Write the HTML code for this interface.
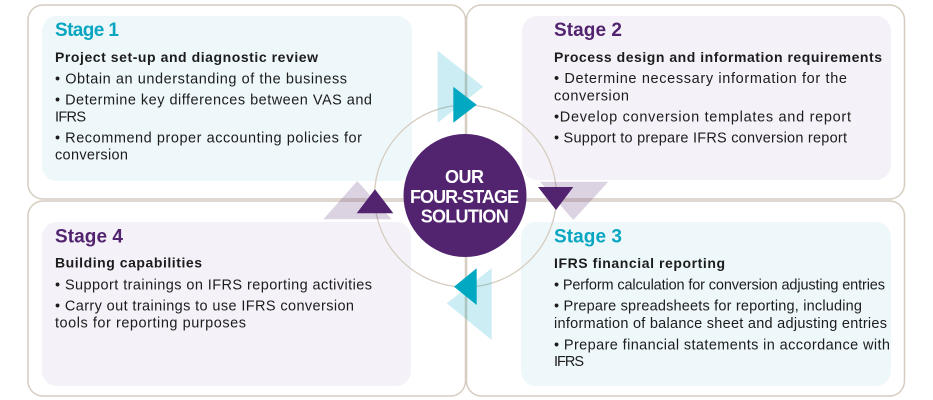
<!DOCTYPE html>
<html>
<head>
<meta charset="utf-8">
<style>
html,body{margin:0;padding:0;background:#ffffff;}
svg{display:block;}
text{font-family:"Liberation Sans",Arial,sans-serif;}
.h{font-weight:bold;font-size:19px;}
.s{font-weight:bold;font-size:14px;fill:#1c1c1c;}
.b{font-size:14.5px;fill:#1c1c1c;}
.t{fill:#0aa6c1;}
.p{fill:#52236f;}
.c{font-weight:bold;font-size:18px;fill:#ffffff;}
</style>
</head>
<body>
<svg width="933" height="400" viewBox="0 0 933 400" xmlns="http://www.w3.org/2000/svg">
  <!-- outer boxes -->
  <rect x="28" y="5" width="437.5" height="194" rx="15" ry="15" fill="#ffffff" stroke="#d6ccc0" stroke-width="1.5"/>
  <rect x="466.5" y="5" width="438" height="194" rx="15" ry="15" fill="#ffffff" stroke="#d6ccc0" stroke-width="1.5"/>
  <rect x="28" y="201" width="437.5" height="195" rx="15" ry="15" fill="#ffffff" stroke="#d6ccc0" stroke-width="1.5"/>
  <rect x="466.5" y="201" width="438" height="195" rx="15" ry="15" fill="#ffffff" stroke="#d6ccc0" stroke-width="1.5"/>

  <!-- inner boxes -->
  <rect x="42" y="16" width="370" height="165" rx="15" ry="15" fill="#eef8fa"/>
  <rect x="522" y="16" width="369" height="164" rx="15" ry="15" fill="#f4f2f8"/>
  <rect x="42" y="222" width="369" height="164" rx="15" ry="15" fill="#f4f2f8"/>
  <rect x="521" y="222" width="370" height="164" rx="15" ry="15" fill="#eef8fa"/>

  <!-- Stage 1 -->
  <text class="h t" x="55" y="36" textLength="64" lengthAdjust="spacing">Stage 1</text>
  <text class="s" x="55" y="62" textLength="263" lengthAdjust="spacing">Project set-up and diagnostic review</text>
  <text class="b" x="55" y="83.5" textLength="292" lengthAdjust="spacing">• Obtain an understanding of the business</text>
  <text class="b" x="55" y="104.5" textLength="317" lengthAdjust="spacing">• Determine key differences between VAS and</text>
  <text class="b" x="55" y="121.7" textLength="31" lengthAdjust="spacing">IFRS</text>
  <text class="b" x="55" y="142.7" textLength="307" lengthAdjust="spacing">• Recommend proper accounting policies for</text>
  <text class="b" x="55" y="159.7" textLength="73" lengthAdjust="spacing">conversion</text>

  <!-- Stage 2 -->
  <text class="h p" x="554" y="36" textLength="68" lengthAdjust="spacing">Stage 2</text>
  <text class="s" x="554" y="62" textLength="328" lengthAdjust="spacing">Process design and information requirements</text>
  <text class="b" x="554" y="83" textLength="293" lengthAdjust="spacing">• Determine necessary information for the</text>
  <text class="b" x="554" y="100.7" textLength="75" lengthAdjust="spacing">conversion</text>
  <text class="b" x="554" y="121.7" textLength="297" lengthAdjust="spacing">•Develop conversion templates and report</text>
  <text class="b" x="554" y="142.7" textLength="293" lengthAdjust="spacing">• Support to prepare IFRS conversion report</text>

  <!-- Stage 4 -->
  <text class="h p" x="55" y="242.3" textLength="68" lengthAdjust="spacing">Stage 4</text>
  <text class="s" x="55" y="267.7" textLength="147" lengthAdjust="spacing">Building capabilities</text>
  <text class="b" x="55" y="289.3" textLength="317" lengthAdjust="spacing">• Support trainings on IFRS reporting activities</text>
  <text class="b" x="55" y="310.7" textLength="299" lengthAdjust="spacing">• Carry out trainings to use IFRS conversion</text>
  <text class="b" x="55" y="327.7" textLength="191" lengthAdjust="spacing">tools for reporting purposes</text>

  <!-- Stage 3 -->
  <text class="h t" x="554" y="242.3" textLength="68" lengthAdjust="spacing">Stage 3</text>
  <text class="s" x="554" y="268" textLength="171" lengthAdjust="spacing">IFRS financial reporting</text>
  <text class="b" x="554" y="289.3" textLength="331" lengthAdjust="spacing">• Perform calculation for conversion adjusting entries</text>
  <text class="b" x="554" y="310.7" textLength="308" lengthAdjust="spacing">• Prepare spreadsheets for reporting, including</text>
  <text class="b" x="554" y="328" textLength="333" lengthAdjust="spacing">information of balance sheet and adjusting entries</text>
  <text class="b" x="554" y="349.3" textLength="336" lengthAdjust="spacing">• Prepare financial statements in accordance with</text>
  <text class="b" x="554" y="366" textLength="30" lengthAdjust="spacing">IFRS</text>

  <!-- ring -->
  <circle cx="465.5" cy="196" r="91" fill="none" stroke="#d6ccc0" stroke-width="1.3"/>

  <!-- light triangles (semi-transparent) -->
  <polygon points="437.7,50.7 483.3,86.7 437.7,122.7" fill="#00a7c3" fill-opacity="0.2"/>
  <polygon points="540,181.7 608.3,181.7 573.3,220" fill="#52236f" fill-opacity="0.2"/>
  <polygon points="491.7,268.3 491.7,340 446.7,303.3" fill="#00a7c3" fill-opacity="0.2"/>
  <polygon points="357.3,181 391.7,219.3 323.3,219.3" fill="#52236f" fill-opacity="0.2"/>

  <!-- dark triangles -->
  <polygon points="453.3,86.7 476.7,104.7 453.3,122.7" fill="#00a8c2"/>
  <polygon points="538,187 573.3,187 556,210" fill="#52236f"/>
  <polygon points="476.7,268.3 476.7,305 454,286.7" fill="#00a8c2"/>
  <polygon points="375,189.3 393.3,213.3 356.7,213.3" fill="#52236f"/>

  <!-- center circle -->
  <circle cx="465" cy="195.5" r="61.5" fill="#52236f"/>
  <text class="c" x="445" y="183" textLength="39" lengthAdjust="spacing">OUR</text>
  <text class="c" x="410" y="203" textLength="109" lengthAdjust="spacing">FOUR-STAGE</text>
  <text class="c" x="420.7" y="222.7" textLength="88" lengthAdjust="spacing">SOLUTION</text>
</svg>
</body>
</html>
